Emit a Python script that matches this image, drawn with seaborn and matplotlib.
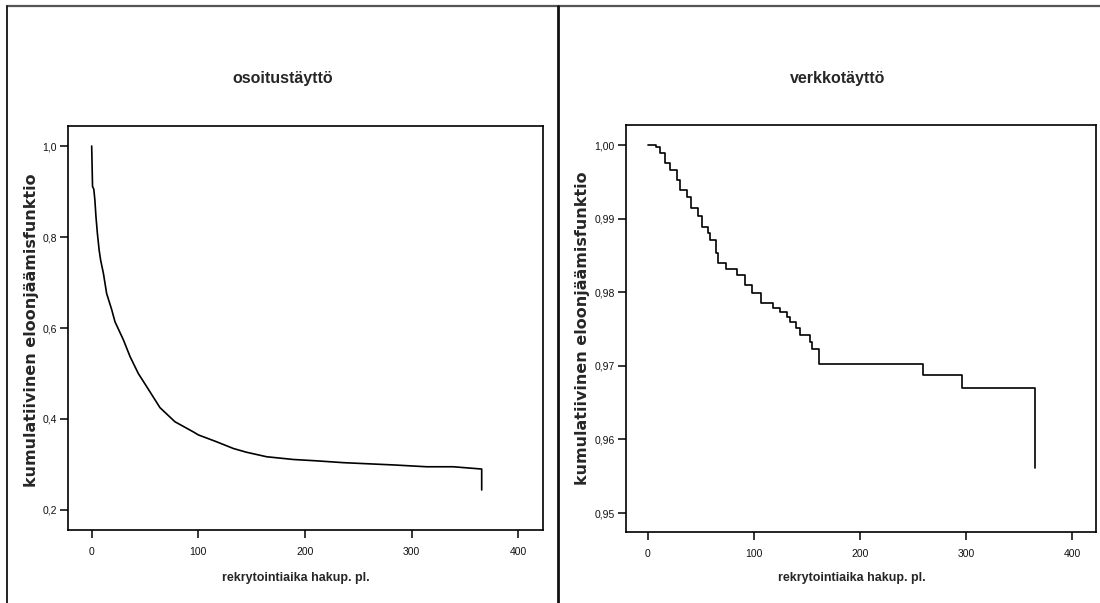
import matplotlib
matplotlib.use("Agg")
import matplotlib.pyplot as plt
from matplotlib.lines import Line2D
import seaborn as sns
import pandas as pd

# ---- data ----
left_t = [0, 0.8, 2, 3, 4, 5.3, 7, 8.4, 11, 14, 18.8, 21.8, 29.7, 36, 43.7,
          51.6, 64, 78, 95, 100, 117, 133, 145, 164, 189, 211, 236, 283,
          314, 339, 365.6, 365.6]
left_s = [1.0, 0.911, 0.905, 0.881, 0.845, 0.809, 0.771, 0.749, 0.720, 0.676,
          0.640, 0.614, 0.574, 0.537, 0.500, 0.471, 0.425, 0.394, 0.372,
          0.365, 0.350, 0.335, 0.327, 0.317, 0.311, 0.308, 0.304, 0.299, 0.295,
          0.295, 0.290, 0.244]

right_t = [0, 7.5, 11.3, 16, 20.8, 27, 30, 36.5, 41, 47.5, 50.6, 57, 58.5, 64,
           66.3, 74, 83.6, 91.5, 97.8, 107, 118, 124.5, 130.8, 134, 140, 143.4,
           152.8, 154.4, 161.6, 259.7, 296.2, 365.4]
right_s = [1.000, 0.9997, 0.9989, 0.9975, 0.9966, 0.9953, 0.9939, 0.9930,
           0.9914, 0.9903, 0.9889, 0.9880, 0.9871, 0.9853, 0.9840, 0.9831,
           0.9824, 0.9810, 0.9799, 0.9786, 0.9778, 0.9773, 0.9766, 0.9759,
           0.9752, 0.9742, 0.9733, 0.9723, 0.9703, 0.9687, 0.9670, 0.9561]

x_ticks = [0, 100, 200, 300, 400]
x_ticklabels = ["0", "100", "200", "300", "400"]
left_yticks = [0.2, 0.4, 0.6, 0.8, 1.0]
left_yticklabels = ["0,2", "0,4", "0,6", "0,8", "1,0"]
right_yticks = [0.95, 0.96, 0.97, 0.98, 0.99, 1.00]
right_yticklabels = ["0,95", "0,96", "0,97", "0,98", "0,99", "1,00"]

titles = ["osoitustäyttö", "verkkotäyttö"]
xlabel = "rekrytointiaika hakup. pl."
ylabel = "kumulatiivinen eloonjäämisfunktio"

# ---- style ----
sns.set_theme(style="white")
sans = ["Liberation Sans", "DejaVu Sans"]
plt.rcParams["font.family"] = sans

fig = plt.figure(figsize=(11, 6.03), dpi=100)
fig.patch.set_facecolor("white")

axL = fig.add_axes([68 / 1100, 1 - 530 / 603, (542.5 - 68) / 1100, (530 - 126) / 603])
axR = fig.add_axes([626 / 1100, 1 - 532 / 603, (1096 - 626) / 1100, (532 - 125) / 603])

dfL = pd.DataFrame({"t": left_t, "s": left_s})
dfR = pd.DataFrame({"t": right_t, "s": right_s})

sns.lineplot(data=dfL, x="t", y="s", ax=axL, color="black", linewidth=1.2,
             estimator=None, sort=False)
sns.lineplot(data=dfR, x="t", y="s", ax=axR, color="black", linewidth=1.2,
             estimator=None, sort=False, drawstyle="steps-post")

axL.set_xlim(-22.2, 422.6)
axL.set_ylim(0.156, 1.044)
axR.set_xlim(-20.75, 422.6)
axR.set_ylim(0.94742, 1.00272)

axL.set_yticks(left_yticks)
axL.set_yticklabels(left_yticklabels)
axR.set_yticks(right_yticks)
axR.set_yticklabels(right_yticklabels)

for ax in (axL, axR):
    ax.set_xticks(x_ticks)
    ax.set_xticklabels(x_ticklabels)
    ax.set_xlabel("")
    ax.set_ylabel("")
    for sp in ax.spines.values():
        sp.set_visible(True)
        sp.set_color("black")
        sp.set_linewidth(1.2)
    ax.tick_params(axis="both", which="both", direction="out", length=6,
                   width=1.1, color="black", labelsize=7.5, labelcolor="#111111",
                   left=True, bottom=True, pad=2)
    ax.tick_params(axis="x", pad=6)
    ax.set_facecolor("white")
    ax.grid(False)

# ---- texts ----
title_kw = dict(fontsize=11.5, fontweight="bold", ha="center", va="center", family=sans)
fig.text(282.5 / 1100, 1 - 78 / 603, titles[0], **title_kw)
fig.text(838 / 1100, 1 - 78 / 603, titles[1], **title_kw)

xl_kw = dict(fontsize=9, fontweight="bold", ha="center", va="center", family=sans)
fig.text(296 / 1100, 1 - 578 / 603, xlabel, **xl_kw)
fig.text(852 / 1100, 1 - 578 / 603, xlabel, **xl_kw)

yl_kw = dict(fontsize=11.5, fontweight="bold", ha="center", va="center",
             rotation=90, family=["DejaVu Sans"])
fig.text(32 / 1100, 1 - 330 / 603, ylabel, **yl_kw)
fig.text(583 / 1100, 1 - 328 / 603, ylabel, **yl_kw)

# ---- outer frame lines ----
fig.add_artist(Line2D([7 / 1100, 1.0], [1 - 6 / 603, 1 - 6 / 603],
                      transform=fig.transFigure, color="#555555", linewidth=1.6))
fig.add_artist(Line2D([7 / 1100, 7 / 1100], [0, 1 - 6 / 603],
                      transform=fig.transFigure, color="#222222", linewidth=1.4))
fig.add_artist(Line2D([558 / 1100, 558 / 1100], [0, 1 - 6 / 603],
                      transform=fig.transFigure, color="#111111", linewidth=2.0))

fig.savefig("out.png", dpi=100, facecolor="white")
